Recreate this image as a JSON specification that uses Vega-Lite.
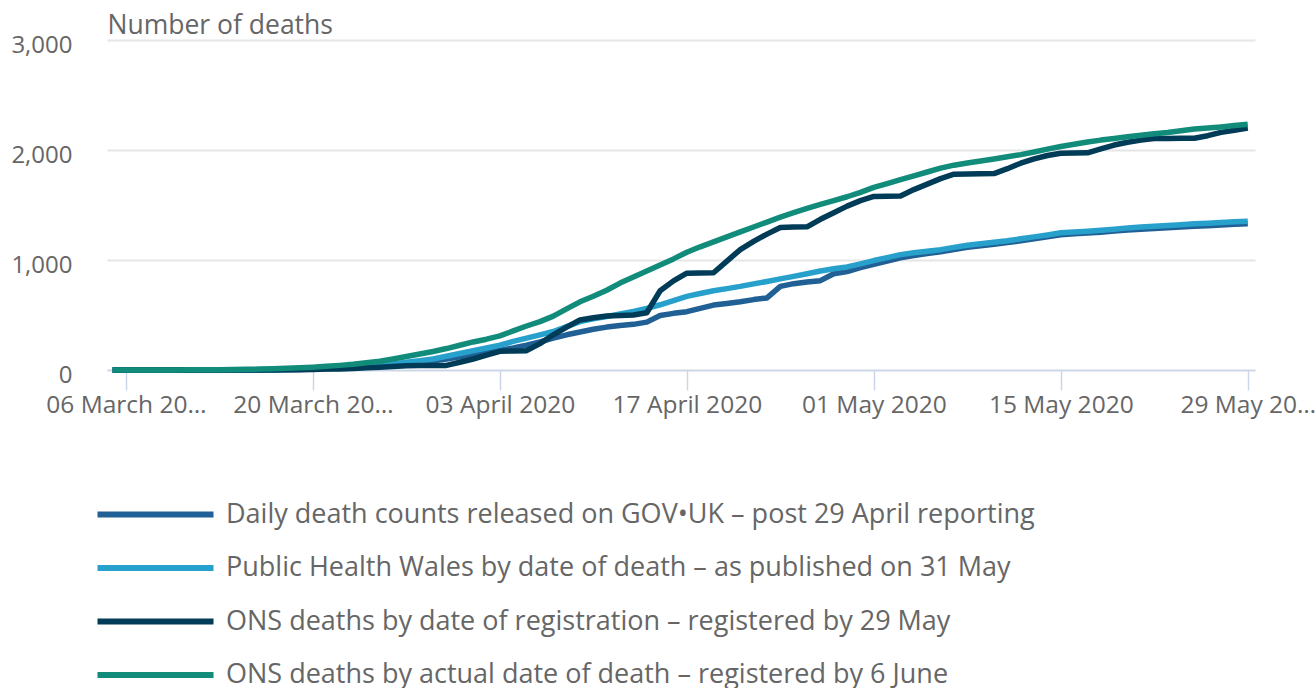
{
  "$schema": "https://vega.github.io/schema/vega-lite/v6.json",
  "width": 1148,
  "height": 330,
  "autosize": {"type": "none"},
  "padding": {"left": 107, "top": 40, "right": 60, "bottom": 318},
  "background": "white",
  "config": {
    "font": "Open Sans",
    "view": {"stroke": null}
  },
  "data": {
    "values": [
      {"date": "2020-03-05", "g": 0, "p": 0, "r": 0, "a": 1},
      {"date": "2020-03-06", "g": 0, "p": 0, "r": 0, "a": 1},
      {"date": "2020-03-07", "g": 0, "p": 0, "r": 0, "a": 1},
      {"date": "2020-03-08", "g": 0, "p": 0, "r": 0, "a": 1},
      {"date": "2020-03-09", "g": 0, "p": 0, "r": 0, "a": 1},
      {"date": "2020-03-10", "g": 0, "p": 0, "r": 0, "a": 1},
      {"date": "2020-03-11", "g": 0, "p": 0, "r": 0, "a": 2},
      {"date": "2020-03-12", "g": 0, "p": 0, "r": 0, "a": 2},
      {"date": "2020-03-13", "g": 0, "p": 0, "r": 0, "a": 3},
      {"date": "2020-03-14", "g": 0, "p": 0, "r": 0, "a": 4},
      {"date": "2020-03-15", "g": 0, "p": 0, "r": 0, "a": 6},
      {"date": "2020-03-16", "g": 1, "p": 1, "r": 0, "a": 8},
      {"date": "2020-03-17", "g": 2, "p": 2, "r": 1, "a": 11},
      {"date": "2020-03-18", "g": 3, "p": 4, "r": 2, "a": 15},
      {"date": "2020-03-19", "g": 4, "p": 6, "r": 3, "a": 20},
      {"date": "2020-03-20", "g": 8, "p": 10, "r": 5, "a": 26},
      {"date": "2020-03-21", "g": 12, "p": 14, "r": 8, "a": 33},
      {"date": "2020-03-22", "g": 16, "p": 18, "r": 10, "a": 42},
      {"date": "2020-03-23", "g": 20, "p": 24, "r": 14, "a": 52},
      {"date": "2020-03-24", "g": 25, "p": 30, "r": 20, "a": 65},
      {"date": "2020-03-25", "g": 35, "p": 42, "r": 26, "a": 80},
      {"date": "2020-03-26", "g": 45, "p": 55, "r": 32, "a": 100},
      {"date": "2020-03-27", "g": 60, "p": 70, "r": 38, "a": 122},
      {"date": "2020-03-28", "g": 70, "p": 85, "r": 40, "a": 145},
      {"date": "2020-03-29", "g": 85, "p": 100, "r": 40, "a": 168},
      {"date": "2020-03-30", "g": 100, "p": 125, "r": 42, "a": 195},
      {"date": "2020-03-31", "g": 120, "p": 150, "r": 70, "a": 225},
      {"date": "2020-04-01", "g": 140, "p": 175, "r": 100, "a": 255},
      {"date": "2020-04-02", "g": 160, "p": 200, "r": 135, "a": 280},
      {"date": "2020-04-03", "g": 180, "p": 225, "r": 170, "a": 310},
      {"date": "2020-04-04", "g": 200, "p": 260, "r": 173, "a": 355},
      {"date": "2020-04-05", "g": 225, "p": 290, "r": 176, "a": 400},
      {"date": "2020-04-06", "g": 255, "p": 320, "r": 240, "a": 440},
      {"date": "2020-04-07", "g": 290, "p": 350, "r": 320, "a": 490},
      {"date": "2020-04-08", "g": 320, "p": 395, "r": 390, "a": 555},
      {"date": "2020-04-09", "g": 345, "p": 440, "r": 455, "a": 620},
      {"date": "2020-04-10", "g": 370, "p": 465, "r": 475, "a": 670},
      {"date": "2020-04-11", "g": 390, "p": 486, "r": 490, "a": 725},
      {"date": "2020-04-12", "g": 405, "p": 510, "r": 495, "a": 790},
      {"date": "2020-04-13", "g": 415, "p": 532, "r": 500, "a": 845},
      {"date": "2020-04-14", "g": 435, "p": 560, "r": 520, "a": 900},
      {"date": "2020-04-15", "g": 495, "p": 593, "r": 720, "a": 955},
      {"date": "2020-04-16", "g": 515, "p": 630, "r": 810, "a": 1010},
      {"date": "2020-04-17", "g": 530, "p": 669, "r": 880, "a": 1070},
      {"date": "2020-04-18", "g": 560, "p": 695, "r": 882, "a": 1120},
      {"date": "2020-04-19", "g": 590, "p": 720, "r": 884, "a": 1165},
      {"date": "2020-04-20", "g": 605, "p": 740, "r": 990, "a": 1210},
      {"date": "2020-04-21", "g": 620, "p": 760, "r": 1095, "a": 1255},
      {"date": "2020-04-22", "g": 640, "p": 783, "r": 1170, "a": 1300},
      {"date": "2020-04-23", "g": 655, "p": 805, "r": 1235, "a": 1345},
      {"date": "2020-04-24", "g": 760, "p": 828, "r": 1295, "a": 1390},
      {"date": "2020-04-25", "g": 785, "p": 851, "r": 1300, "a": 1430},
      {"date": "2020-04-26", "g": 800, "p": 875, "r": 1302, "a": 1470},
      {"date": "2020-04-27", "g": 812, "p": 900, "r": 1370, "a": 1505},
      {"date": "2020-04-28", "g": 875, "p": 920, "r": 1430, "a": 1540},
      {"date": "2020-04-29", "g": 895, "p": 937, "r": 1490, "a": 1575},
      {"date": "2020-04-30", "g": 930, "p": 965, "r": 1540, "a": 1615},
      {"date": "2020-05-01", "g": 960, "p": 995, "r": 1578, "a": 1660},
      {"date": "2020-05-02", "g": 990, "p": 1022, "r": 1580, "a": 1695},
      {"date": "2020-05-03", "g": 1020, "p": 1049, "r": 1582, "a": 1730},
      {"date": "2020-05-04", "g": 1040, "p": 1065, "r": 1640, "a": 1765},
      {"date": "2020-05-05", "g": 1058, "p": 1080, "r": 1690, "a": 1800},
      {"date": "2020-05-06", "g": 1075, "p": 1094, "r": 1740, "a": 1835},
      {"date": "2020-05-07", "g": 1095, "p": 1115, "r": 1780, "a": 1862},
      {"date": "2020-05-08", "g": 1115, "p": 1134, "r": 1782, "a": 1882},
      {"date": "2020-05-09", "g": 1130, "p": 1148, "r": 1784, "a": 1900},
      {"date": "2020-05-10", "g": 1143, "p": 1161, "r": 1786, "a": 1918},
      {"date": "2020-05-11", "g": 1158, "p": 1175, "r": 1830, "a": 1938},
      {"date": "2020-05-12", "g": 1175, "p": 1193, "r": 1880, "a": 1958},
      {"date": "2020-05-13", "g": 1193, "p": 1210, "r": 1920, "a": 1982},
      {"date": "2020-05-14", "g": 1212, "p": 1228, "r": 1950, "a": 2008},
      {"date": "2020-05-15", "g": 1230, "p": 1247, "r": 1970, "a": 2032},
      {"date": "2020-05-16", "g": 1238, "p": 1255, "r": 1972, "a": 2052},
      {"date": "2020-05-17", "g": 1245, "p": 1262, "r": 1974, "a": 2072},
      {"date": "2020-05-18", "g": 1253, "p": 1270, "r": 2010, "a": 2090},
      {"date": "2020-05-19", "g": 1263, "p": 1280, "r": 2045, "a": 2105},
      {"date": "2020-05-20", "g": 1273, "p": 1292, "r": 2070, "a": 2120},
      {"date": "2020-05-21", "g": 1280, "p": 1299, "r": 2090, "a": 2135},
      {"date": "2020-05-22", "g": 1287, "p": 1306, "r": 2104, "a": 2148},
      {"date": "2020-05-23", "g": 1293, "p": 1313, "r": 2105, "a": 2160},
      {"date": "2020-05-24", "g": 1300, "p": 1321, "r": 2106, "a": 2175},
      {"date": "2020-05-25", "g": 1307, "p": 1329, "r": 2107, "a": 2190},
      {"date": "2020-05-26", "g": 1312, "p": 1335, "r": 2130, "a": 2200},
      {"date": "2020-05-27", "g": 1318, "p": 1341, "r": 2160, "a": 2210},
      {"date": "2020-05-28", "g": 1324, "p": 1347, "r": 2180, "a": 2222},
      {"date": "2020-05-29", "g": 1330, "p": 1353, "r": 2200, "a": 2235}
    ]
  },
  "transform": [{"fold": ["g", "p", "r", "a"], "as": ["series", "value"]}],
  "mark": {"type": "line", "strokeWidth": 5.5, "strokeJoin": "round", "strokeCap": "butt"},
  "encoding": {
    "x": {
      "field": "date",
      "type": "temporal",
      "scale": {
        "type": "utc",
        "domain": [
          {"year": 2020, "month": 3, "date": 4, "hours": 14, "utc": true},
          {"year": 2020, "month": 5, "date": 29, "hours": 13, "utc": true}
        ]
      },
      "axis": {
        "title": null,
        "values": [
          {"year": 2020, "month": 3, "date": 6, "utc": true},
          {"year": 2020, "month": 3, "date": 20, "utc": true},
          {"year": 2020, "month": 4, "date": 3, "utc": true},
          {"year": 2020, "month": 4, "date": 17, "utc": true},
          {"year": 2020, "month": 5, "date": 1, "utc": true},
          {"year": 2020, "month": 5, "date": 15, "utc": true},
          {"year": 2020, "month": 5, "date": 29, "utc": true}
        ],
        "format": "%d %B %Y",
        "labelExpr": "indexof(['06 March 2020', '20 March 2020', '29 May 2020'], datum.label) >= 0 ? slice(datum.label, 0, -2) + '…' : datum.label",
        "grid": false,
        "domainColor": "#ccd6eb",
        "domainWidth": 1.5,
        "tickColor": "#ccd6eb",
        "tickWidth": 1.5,
        "tickSize": 20,
        "labelFontSize": 24.5,
        "labelColor": "#666666",
        "labelBaseline": "alphabetic",
        "labelPadding": 22,
        "labelFlush": false,
        "labelOverlap": false,
        "labelLimit": 400
      }
    },
    "y": {
      "field": "value",
      "type": "quantitative",
      "scale": {"domain": [0, 3000], "nice": false},
      "axis": {
        "title": "Number of deaths",
        "titleAngle": 0,
        "titleAlign": "left",
        "titleBaseline": "alphabetic",
        "titleX": 0,
        "titleY": -7,
        "titleFontSize": 26.5,
        "titleFontWeight": "normal",
        "titleColor": "#666666",
        "values": [0, 1000, 2000, 3000],
        "format": ",d",
        "domain": false,
        "ticks": false,
        "gridColor": "#e6e6e6",
        "gridWidth": 2,
        "labelFontSize": 24,
        "labelColor": "#666666",
        "labelPadding": 35,
        "labelBaseline": "alphabetic",
        "labelOffset": 12
      }
    },
    "color": {
      "field": "series",
      "type": "nominal",
      "scale": {
        "domain": ["g", "p", "r", "a"],
        "range": ["#206095", "#27a0cc", "#003c57", "#118c7b"]
      },
      "legend": {
        "title": null,
        "orient": "none",
        "legendX": 31,
        "legendY": 457,
        "direction": "vertical",
        "symbolType": "M-4,0H4",
        "symbolSize": 841,
        "symbolStrokeWidth": 6,
        "labelFontSize": 27,
        "labelColor": "#666666",
        "labelOffset": 53,
        "labelLimit": 1200,
        "rowPadding": 22.5,
        "labelExpr": "datum.label == 'g' ? 'Daily death counts released on GOV•UK – post 29 April reporting' : datum.label == 'p' ? 'Public Health Wales by date of death – as published on 31 May' : datum.label == 'r' ? 'ONS deaths by date of registration – registered by 29 May' : 'ONS deaths by actual date of death – registered by 6 June'"
      }
    }
  }
}
